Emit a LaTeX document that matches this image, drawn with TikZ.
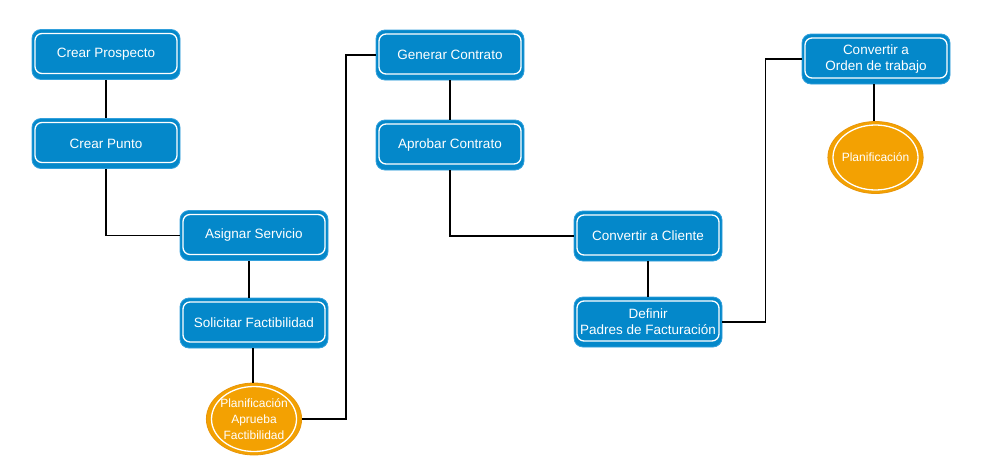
\documentclass[tikz,border=0pt]{standalone}
\usepackage{fontspec}
\setmainfont{Liberation Sans}
\usetikzlibrary{shapes.geometric}
\definecolor{boxblue}{RGB}{4,136,202}
\definecolor{boxrim}{RGB}{50,160,220}
\definecolor{planorange}{RGB}{243,161,2}
\definecolor{planrim}{RGB}{232,150,10}
\begin{document}
\begin{tikzpicture}[x=1pt,y=-1pt,
  stepbox/.style={rectangle, rounded corners=9pt, fill=boxblue, draw=boxrim, line width=0.8pt,
    minimum width=148pt, minimum height=50pt, inner sep=0pt, align=center, text=white,
    font=\fontsize{13.5}{16}\selectfont,
    path picture={\draw[white, line width=1.3pt, rounded corners=7pt]
      ([shift={(3,4)}]path picture bounding box.north west) rectangle
      ([shift={(-3,-6)}]path picture bounding box.south east);}},
  planoval/.style={ellipse, fill=planorange, draw=planrim, line width=0.8pt,
    minimum width=92pt, minimum height=72pt, inner sep=0pt, align=center, text=white,
    font=\fontsize{12}{16}\selectfont,
    path picture={\draw[white, line width=1.3pt]
      (path picture bounding box.center) ellipse [x radius=42.5pt, y radius=32.5pt];}},
  link/.style={draw=black, line width=1.7pt}]
\useasboundingbox (0,0) rectangle (984,471);

% process steps
\node[stepbox] (prospecto) at (106,54.5) {Crear Prospecto};
\node[stepbox] (punto) at (106,143.5) {Crear Punto};
\node[stepbox] (asignar) at (254,235.5) {Asignar Servicio};
\node[stepbox] (solicitar) at (254,323) {Solicitar Factibilidad};
\node[planoval] (aprueba) at (254,419) {Planificación\\Aprueba\\Factibilidad};
\node[stepbox] (generar) at (450,55) {Generar Contrato};
\node[stepbox] (aprobar) at (450,145) {Aprobar Contrato};
\node[stepbox] (cliente) at (648,236) {Convertir a Cliente};
\node[stepbox] (padres) at (648,322) {Definir\\Padres de Facturación};
\node[stepbox] (orden) at (876,59) {Convertir a\\Orden de trabajo};
\node[planoval] (plan) at (875.5,157.5) {Planificación};

% connectors
\draw[link] (prospecto.south) -- (punto.north);
\draw[link] (punto.south) |- (asignar.west);
\draw[link] ([xshift=-5]asignar.south) -- ([xshift=-5]solicitar.north);
\draw[link] ([xshift=-1]solicitar.south) -- ([xshift=-1]solicitar.south |- aprueba.north);
\draw[link] (aprueba.east) -- ++(44,0) |- (generar.west);
\draw[link] (generar.south) -- (aprobar.north);
\draw[link] (aprobar.south) |- (cliente.west);
\draw[link] (cliente.south) -- (padres.north);
\draw[link] (padres.east) -- ++(43,0) |- (orden.west);
\draw[link] ([xshift=-2]orden.south) -- ([xshift=-2]orden.south |- plan.north);
\end{tikzpicture}
\end{document}
